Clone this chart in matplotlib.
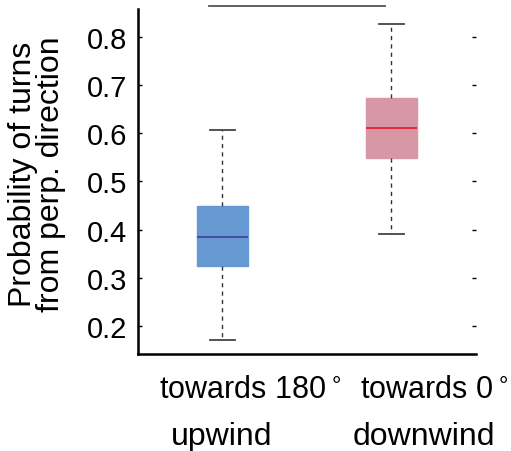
import matplotlib
matplotlib.use('Agg')
import matplotlib.pyplot as plt

plt.rcParams['font.family'] = ['Liberation Sans', 'DejaVu Sans']

# box summary values
labels_top = ['towards 180$^\\circ$', 'towards 0$^\\circ$']
labels_bottom = ['upwind', 'downwind']
medians = [0.385, 0.611]
q1 = [0.325, 0.549]
q3 = [0.449, 0.673]
whislo = [0.171, 0.391]
whishi = [0.607, 0.827]
box_colors = ['#6699d2', '#d797a5']
median_colors = ['#3b3f9c', '#e8142a']

fig = plt.figure(figsize=(5.11, 4.52), dpi=100)
ax = fig.add_axes([0.270, 0.2146, 0.661, 0.7634])

stats = []
for i in range(2):
    stats.append({'med': medians[i], 'q1': q1[i], 'q3': q3[i],
                  'whislo': whislo[i], 'whishi': whishi[i], 'fliers': []})

bp = ax.bxp(stats, positions=[1, 2], widths=0.3, patch_artist=True,
            showfliers=False,
            whiskerprops=dict(color='#333333', linestyle=(0, (3, 3)), lw=1),
            capprops=dict(color='#444444', lw=1.3),
            capwidths=0.15)
for patch, c in zip(bp['boxes'], box_colors):
    patch.set_facecolor(c)
    patch.set_edgecolor(c)
for med, c in zip(bp['medians'], median_colors):
    med.set_color(c)
    med.set_linewidth(1.2)

ax.set_xlim(0.5, 2.5)
ax.set_ylim(0.142, 0.858)
ax.set_yticks([0.2, 0.3, 0.4, 0.5, 0.6, 0.7, 0.8])
ax.set_yticklabels(['0.2', '0.3', '0.4', '0.5', '0.6', '0.7', '0.8'])
ax.tick_params(axis='y', direction='in', length=3, width=1, labelsize=21,
               pad=8, right=True)
ax.set_xticks([])

ax.spines['top'].set_visible(False)
ax.spines['right'].set_visible(False)
ax.spines['left'].set_linewidth(1.8)
ax.spines['bottom'].set_linewidth(1.8)

# line above the boxes
ax.plot([0.92, 1.96], [0.864, 0.864], color='#555555', lw=1.3, clip_on=False)

# category labels
fig.text(250 / 511, 1 - 398 / 452, labels_top[0], ha='center', va='baseline', fontsize=22)
fig.text(434 / 511, 1 - 398 / 452, labels_top[1], ha='center', va='baseline', fontsize=22)
fig.text(222 / 511, 1 - 445 / 452, labels_bottom[0], ha='center', va='baseline', fontsize=23)
fig.text(424 / 511, 1 - 445 / 452, labels_bottom[1], ha='center', va='baseline', fontsize=23)

fig.text(37 / 511, 1 - 174 / 452, 'Probability of turns\nfrom perp. direction',
         rotation=90, ha='center', va='center', fontsize=23, linespacing=0.9)

fig.savefig('out.png', dpi=100)
